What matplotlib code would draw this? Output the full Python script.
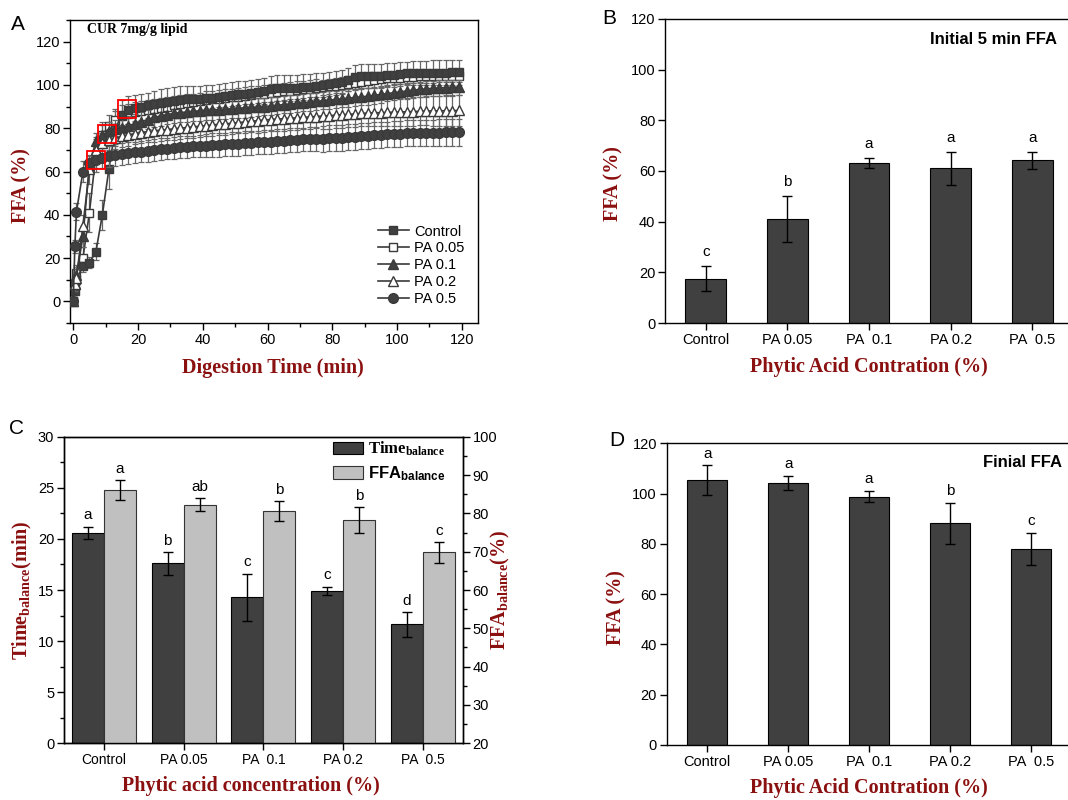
import numpy as np
import matplotlib
matplotlib.use("Agg")
import matplotlib.pyplot as plt
from matplotlib.ticker import MultipleLocator

plt.rcParams['font.family'] = ['Liberation Sans', 'DejaVu Sans']
plt.rcParams['mathtext.fontset'] = 'custom'
plt.rcParams['mathtext.rm'] = 'Liberation Serif:bold'
plt.rcParams['mathtext.it'] = 'Liberation Serif:bold'
plt.rcParams['mathtext.bf'] = 'Liberation Serif:bold'
plt.rcParams['mathtext.sf'] = 'Liberation Sans:bold'
plt.rcParams['axes.linewidth'] = 1.0

# ---------------- data ----------------
# panel A: FFA release over digestion time
t_min = [0, 0.5, 1, 3, 5, 7, 9, 11, 13, 15,
         17, 19, 21, 23, 25, 27, 29, 31, 33, 35,
         37, 39, 41, 43, 45, 47, 49, 51, 53, 55,
         57, 59, 61, 63, 65, 67, 69, 71, 73, 75,
         77, 79, 81, 83, 85, 87, 89, 91, 93, 95,
         97, 99, 101, 103, 105, 107, 109, 111, 113, 115,
         117, 119]

ffa_control = [0, 5, 10, 16.5, 17.8, 23, 40, 61, 80, 86,
               88.5, 89.5, 90, 90.5, 91, 91.5, 92, 92.5, 93.2, 93.3,
               93.4, 93.5, 93.8, 94, 94.4, 94.8, 95.2, 95.6, 96, 96.4,
               96.8, 97.3, 98, 98.5, 98.6, 98.7, 98.8, 99, 99.2, 99.5,
               100, 100.5, 101, 101.5, 102.5, 103.5, 104, 104, 104.2, 104.3,
               104.5, 104.7, 105, 105.3, 105.5, 105.5, 105.5, 105.6, 105.7, 105.7,
               105.8, 105.8]
ffa_pa005 = [0, 8, 13, 20, 41, 68, 77, 81, 84, 85.5,
             86.5, 87.5, 88, 88.5, 89, 89.5, 90, 90.5, 91, 91.5,
             92, 92.5, 93, 93.3, 93.6, 94, 94.3, 94.6, 95, 95.3,
             95.6, 96, 96.3, 96.6, 97, 97.3, 97.6, 98, 98.3, 98.6,
             99, 99.3, 99.6, 100, 100.5, 101, 101.5, 102, 102.3, 102.6,
             103, 103.2, 103.4, 103.6, 103.8, 104, 104, 104.1, 104.2, 104.2,
             104.3, 104.3]
ffa_pa01 = [0, 8, 12, 30, 63, 74, 77, 78.5, 79.5, 80.3,
            81, 82, 83, 84, 85, 85.7, 86.3, 86.8, 87.2, 87.5,
            87.8, 88, 88.2, 88.4, 88.6, 88.8, 89, 89.2, 89.4, 89.6,
            89.8, 90, 90.3, 90.6, 90.9, 91.2, 91.5, 91.8, 92.1, 92.4,
            92.7, 93, 93.3, 93.6, 93.9, 94.2, 94.5, 94.8, 95.2, 95.6,
            96, 96.4, 96.8, 97.2, 97.6, 97.9, 98.2, 98.4, 98.6, 98.8,
            98.9, 99]
ffa_pa02 = [0, 8, 11, 35, 61, 70, 73, 74.5, 75.5, 76.3,
            77, 77.5, 78, 78.4, 78.8, 79.1, 79.4, 79.7, 80, 80.3,
            80.6, 80.9, 81.2, 81.5, 81.8, 82, 82.3, 82.6, 82.9, 83.2,
            83.5, 83.8, 84, 84.2, 84.4, 84.6, 84.8, 85, 85.2, 85.4,
            85.6, 85.8, 86, 86.2, 86.4, 86.6, 86.8, 87, 87.1, 87.2,
            87.3, 87.4, 87.5, 87.6, 87.7, 87.8, 87.9, 88, 88, 88.1,
            88.1, 88.2]
ffa_pa05 = [0, 25.5, 41.5, 60, 64, 65.5, 66.3, 67, 67.5, 68,
            68.4, 68.8, 69.2, 69.6, 70, 70.3, 70.6, 70.9, 71.2, 71.4,
            71.6, 71.8, 72, 72.2, 72.4, 72.5, 72.6, 72.8, 73, 73.2,
            73.4, 73.6, 73.8, 74, 74.2, 74.4, 74.6, 74.8, 75, 75.1,
            75.2, 75.3, 75.5, 75.7, 75.9, 76.1, 76.3, 76.5, 76.7, 76.9,
            77.1, 77.3, 77.5, 77.6, 77.7, 77.8, 77.9, 78, 78, 78.1,
            78.1, 78.1]

err_control = [0.5, 2, 3, 3, 2.5, 4, 7, 9, 8, 7,
               6.5, 6, 6, 6, 6, 6.5, 6.5, 6.5, 6.5, 6,
               6, 6, 6, 6, 6, 6, 6, 6, 6, 6,
               6, 6, 6, 6, 6, 6, 6, 6, 6, 6,
               5.5, 5.5, 5.5, 5.5, 5.5, 5.5, 5.5, 5.5, 5.5, 5.5,
               5.5, 5.5, 5.5, 5.5, 5.5, 5.5, 5.5, 5.8, 5.8, 5.8,
               5.8, 5.8]
err_pa005 = [0.5, 3, 4, 5, 9, 8, 6, 5, 5, 5,
             4.5, 4.5, 4.5, 4.5, 4.5, 4.5, 4.5, 4.5, 4.5, 4.5,
             4, 4, 4, 4, 4, 4, 4, 4, 4, 4,
             4, 4, 4, 4, 4, 4, 4, 4, 4, 4,
             3.5, 3.5, 3.5, 3.5, 3.5, 3.5, 3.5, 3.5, 3.5, 3.5,
             3, 3, 3, 3, 3, 3, 3, 3, 2.8, 2.8,
             2.8, 2.8]
err_pa01 = [0.5, 3, 4, 5, 2, 4, 4.5, 4.5, 4.5, 4.5,
            4.5, 4.5, 4.5, 4.5, 4.5, 4.5, 4.5, 4.5, 4.5, 4.5,
            4.5, 4.5, 4.5, 4.5, 4.5, 4.5, 4.5, 4.5, 4.5, 4.5,
            4, 4, 4, 4, 4, 4, 4, 4, 4, 4,
            4, 4, 4, 4, 4, 4, 4, 4, 4, 4,
            3.5, 3.5, 3.5, 3.5, 3.5, 3.5, 3.5, 3.5, 3.5, 3.5,
            3.5, 3.5]
err_pa02 = [0.5, 3, 4, 5, 6.6, 5, 5, 5, 5, 5,
            5, 5, 5, 5, 5, 5, 5, 5, 5, 5,
            5, 5, 5, 5, 5, 5, 5, 5, 5, 5,
            5.5, 5.5, 5.5, 5.5, 5.5, 5.5, 5.5, 5.5, 5.5, 5.5,
            6, 6, 6, 6, 6, 6, 6, 6, 6, 6,
            6.5, 6.5, 6.5, 6.5, 6.5, 6.5, 6.5, 7, 7, 7,
            7, 7]
err_pa05 = [0.5, 3, 4, 5, 3.3, 4, 4.5, 5, 5, 5,
            5, 5, 5, 5, 5, 5, 5, 5, 5, 5,
            5, 5, 5.5, 5.5, 5.5, 5.5, 5.5, 5.5, 5.5, 5.5,
            5.5, 5.5, 5.5, 5.5, 5.5, 5.5, 5.5, 5.5, 5.5, 5.5,
            6, 6, 6, 6, 6, 6, 6, 6, 6, 6,
            6, 6, 6, 6, 6, 6, 6, 6, 6.2, 6.2,
            6.2, 6.2]

series_labels = ['Control', 'PA 0.05', 'PA 0.1', 'PA 0.2', 'PA 0.5']

# highlighted balance points (red boxes)
balance_t = [7, 10.4, 16.5]
balance_ffa = [65.4, 77.2, 89]

# panels B, C, D
groups = ['Control', 'PA 0.05', 'PA  0.1', 'PA 0.2', 'PA  0.5']

init_ffa = [17.5, 41, 63.2, 61, 64.2]
init_err = [5, 9, 2, 6.6, 3.3]
init_letters = ['c', 'b', 'a', 'a', 'a']

time_bal = [20.6, 17.6, 14.3, 14.93, 11.64]
time_err = [0.6, 1.1, 2.3, 0.4, 1.2]
time_letters = ['a', 'b', 'c', 'c', 'd']

ffa_bal = [86.0, 82.3, 80.6, 78.3, 69.8]
ffa_bal_err = [2.6, 1.6, 2.5, 3.4, 2.8]
ffa_letters = ['a', 'ab', 'b', 'b', 'c']

final_ffa = [105.4, 104.3, 98.8, 88.2, 78.1]
final_err = [5.8, 2.8, 2.1, 8.2, 6.4]
final_letters = ['a', 'a', 'a', 'b', 'c']

# ---------------- styling ----------------
W, H = 1068, 800
DRED = '#8B1010'
DARK = '#404040'
LIGHT = '#c0c0c0'
LBL = dict(family='Liberation Serif', weight='bold', color=DRED, fontsize=14.5)


def px_axes(x0, y0, x1, y1):
    return fig.add_axes([x0 / W, 1 - y1 / H, (x1 - x0) / W, (y1 - y0) / H])


def style_ticks(ax):
    ax.tick_params(which='major', direction='out', length=5, width=1, labelsize=10.5, pad=2)
    ax.tick_params(which='minor', direction='out', length=3, width=1)


def add_letters(ax, xs, tops, errs, letters, off):
    for x, v, e, s in zip(xs, tops, errs, letters):
        ax.annotate(s, (x, v + e), xytext=(0, off), textcoords='offset points',
                    ha='center', va='bottom', fontsize=11)


fig = plt.figure(figsize=(W / 100, H / 100), dpi=100)

# ---------------- panel A ----------------
axA = px_axes(70, 20, 478, 323)
marker_specs = [('s', DARK, 6, 4), ('s', 'white', 6, 3), ('^', DARK, 7, 5),
                ('^', 'white', 7, 6), ('o', DARK, 7, 7)]
for vals, err, lab, (mk, fc, ms, z) in zip(
        [ffa_control, ffa_pa005, ffa_pa01, ffa_pa02, ffa_pa05],
        [err_control, err_pa005, err_pa01, err_pa02, err_pa05],
        series_labels, marker_specs):
    axA.errorbar(t_min, vals, yerr=err, fmt='none', ecolor='#666666',
                 elinewidth=0.9, capsize=2.5, capthick=0.9, zorder=z - 2)
    axA.plot(t_min, vals, marker=mk, color='#3a3a3a', mfc=fc, mec='#3a3a3a',
             ms=ms, mew=1, lw=1.2, label=lab, zorder=z)
axA.plot(balance_t, balance_ffa, ls='none', marker='s', ms=12.5, mfc='none',
         mec='red', mew=1.3, zorder=10)
axA.set_xlim(-1, 125)
axA.set_ylim(-10, 130)
axA.xaxis.set_major_locator(MultipleLocator(20))
axA.xaxis.set_minor_locator(MultipleLocator(10))
axA.yaxis.set_major_locator(MultipleLocator(20))
axA.yaxis.set_minor_locator(MultipleLocator(10))
axA.set_yticks(np.arange(0, 121, 20))
style_ticks(axA)
axA.set_xlabel('Digestion Time (min)', va='center', **LBL)
axA.xaxis.set_label_coords(0.4975, -0.1485)
axA.set_ylabel('FFA (%)', va='center', **LBL)
axA.yaxis.set_label_coords(-0.12, 0.455)
axA.text(0.042, 0.97, 'CUR 7mg/g lipid', transform=axA.transAxes, ha='left', va='center',
         family='Liberation Serif', weight='bold', fontsize=10)
axA.legend(loc='upper left', bbox_to_anchor=(0.755, 0.325), frameon=False, fontsize=10.5,
           handlelength=2.1, handletextpad=0.4, labelspacing=0.2, borderpad=0,
           borderaxespad=0)

x = np.arange(len(groups))

# ---------------- panel B ----------------
axB = px_axes(665, 19, 1073, 323)
axB.bar(x, init_ffa, 0.5, yerr=init_err, color=DARK, edgecolor='black', lw=0.8,
        capsize=3.5, error_kw=dict(elinewidth=1, capthick=1, ecolor='black'))
add_letters(axB, x, init_ffa, init_err, init_letters, 5)
axB.set_xlim(-0.5, 4.5)
axB.set_ylim(0, 120)
axB.set_yticks(np.arange(0, 121, 20))
axB.set_xticks(x, groups)
style_ticks(axB)
axB.set_xlabel('Phytic Acid Contration (%)', va='center', **LBL)
axB.xaxis.set_label_coords(0.5, -0.145)
axB.set_ylabel('FFA (%)', va='center', **LBL)
axB.yaxis.set_label_coords(-0.127, 0.46)
axB.text(0.961, 0.934, 'Initial 5 min FFA', transform=axB.transAxes, ha='right',
         va='center', weight='bold', fontsize=12)

# ---------------- panel C ----------------
axC = px_axes(64, 436.7, 462.7, 743.3)
axC2 = axC.twinx()
b1 = axC.bar(x - 0.2, time_bal, 0.4, yerr=time_err, color=DARK, edgecolor='black', lw=0.8,
             capsize=3.5, error_kw=dict(elinewidth=1, capthick=1, ecolor='black'))
b2 = axC2.bar(x + 0.2, ffa_bal, 0.4, yerr=ffa_bal_err, color=LIGHT, edgecolor='#333333',
              lw=0.8, capsize=3.5, error_kw=dict(elinewidth=1, capthick=1, ecolor='black'))
add_letters(axC, x - 0.2, time_bal, time_err, time_letters, 3)
add_letters(axC2, x + 0.2, ffa_bal, ffa_bal_err, ffa_letters, 3)
axC.set_xlim(-0.5, 4.5)
axC.set_ylim(0, 30)
axC2.set_ylim(20, 100)
axC.yaxis.set_major_locator(MultipleLocator(5))
axC.yaxis.set_minor_locator(MultipleLocator(2.5))
axC2.yaxis.set_major_locator(MultipleLocator(10))
axC2.yaxis.set_minor_locator(MultipleLocator(5))
axC.set_xticks(x, groups)
style_ticks(axC)
style_ticks(axC2)
axC.tick_params(axis='x', labelsize=10)
axC.set_xlabel('Phytic acid concentration (%)', va='center', **LBL)
axC.xaxis.set_label_coords(0.469, -0.139)
axC.set_ylabel(r'$\mathrm{Time_{balance}(min)}$', va='center', color=DRED, fontsize=14.5)
axC.yaxis.set_label_coords(-0.105, 0.5)
axC2.set_ylabel(r'$\mathrm{FFA_{balance}(\%)}$', va='center', rotation=90,
                color=DRED, fontsize=14.5)
axC2.yaxis.set_label_coords(1.094, 0.5)
axC.legend([b1, b2], [r'$\mathrm{Time_{balance}}$', r'$\mathsf{FFA_{balance}}$'],
           loc='upper left', bbox_to_anchor=(0.675, 0.99), frameon=False, fontsize=12,
           handlelength=1.8, handleheight=0.8, handletextpad=0.3, labelspacing=0.35,
           borderpad=0, borderaxespad=0)

# ---------------- panel D ----------------
axD = px_axes(666.7, 443.3, 1071.5, 745)
axD.bar(x, final_ffa, 0.5, yerr=final_err, color=DARK, edgecolor='black', lw=0.8,
        capsize=3.5, error_kw=dict(elinewidth=1, capthick=1, ecolor='black'))
add_letters(axD, x, final_ffa, final_err, final_letters, 3.5)
axD.set_xlim(-0.5, 4.5)
axD.set_ylim(0, 120)
axD.set_yticks(np.arange(0, 121, 20))
axD.set_xticks(x, groups)
style_ticks(axD)
axD.set_xlabel('Phytic Acid Contration (%)', va='center', **LBL)
axD.xaxis.set_label_coords(0.5, -0.1425)
axD.set_ylabel('FFA (%)', va='center', **LBL)
axD.yaxis.set_label_coords(-0.125, 0.457)
axD.text(0.976, 0.936, 'Finial FFA', transform=axD.transAxes, ha='right',
         va='center', weight='bold', fontsize=12)

# panel letters
for s, px, py in [('A', 18, 24), ('B', 609, 18), ('C', 17, 429), ('D', 616.5, 440.5)]:
    fig.text(px / W, 1 - py / H, s, fontsize=15, ha='center', va='center')

fig.savefig('out.png', dpi=100)
